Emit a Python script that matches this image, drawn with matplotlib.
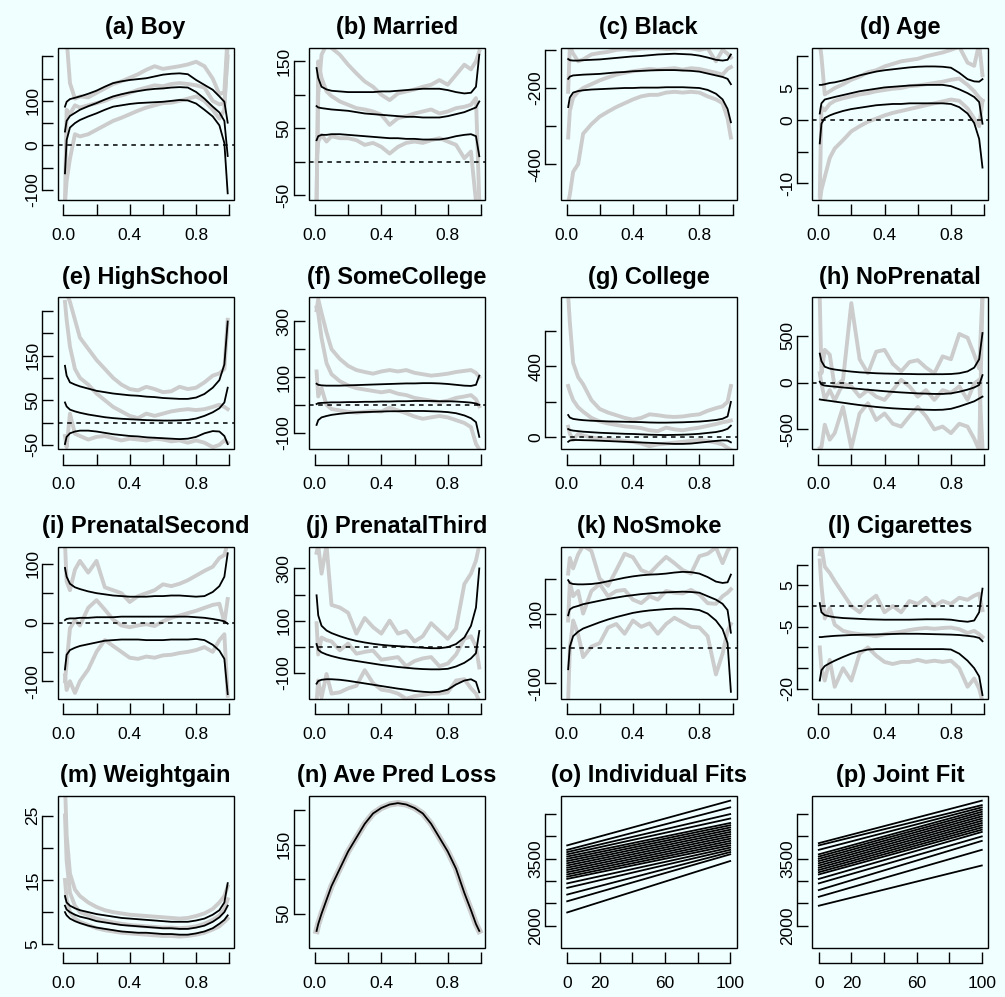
import numpy as np
import matplotlib.pyplot as plt
from matplotlib.patches import Rectangle

plt.rcParams['font.family'] = ['Liberation Sans', 'DejaVu Sans']

BG = '#F0FFFF'
GRAY = '#CCCCCC'

# quantile levels
tau = [0.01, 0.02, 0.04, 0.07, 0.10, 0.15, 0.20, 0.25, 0.30, 0.35, 0.40, 0.45,
       0.50, 0.55, 0.60, 0.65, 0.70, 0.75, 0.80, 0.85, 0.90, 0.94, 0.97, 0.99]

# (a) Boy
boy_hi = [87, 98, 104, 107, 110, 116, 123, 132, 140, 144, 147, 149, 151, 155, 159, 161, 162, 160, 147, 136, 125, 110, 98, 51]
boy_mid = [31, 55, 66, 73, 80, 88, 95, 103, 110, 115, 119, 122, 125, 127, 128, 130, 131, 130, 120, 105, 87, 74, 55, -24]
boy_lo = [-63, 12, 40, 50, 57, 65, 72, 80, 87, 90, 93, 95, 96, 97, 98, 100, 102, 101, 94, 80, 65, 45, 5, -108]
boy_g_hi = [260, 240, 140, 105, 110, 108, 118, 128, 138, 144, 152, 160, 170, 178, 172, 175, 178, 182, 188, 178, 150, 115, 120, 250]
boy_g_mid = [-130, 80, 70, 90, 85, 90, 95, 100, 108, 112, 118, 125, 130, 135, 133, 138, 140, 138, 135, 130, 100, 92, 95, 200]
boy_g_lo = [-130, -80, -30, 25, 20, 25, 35, 45, 55, 62, 70, 78, 85, 90, 95, 96, 100, 105, 110, 100, 80, 60, 80, 230]

# (b) Married
mar_hi = [140, 125, 112, 108, 106, 105, 104, 104, 104, 104, 105, 105, 106, 107, 108, 109, 109, 109, 107, 104, 102, 103, 112, 160]
mar_mid = [83, 81, 80, 79, 78, 77, 76, 74, 72, 71, 70, 69, 68, 67, 67, 66, 66, 66, 68, 71, 74, 78, 81, 90]
mar_lo = [32, 38, 40, 40, 41, 41, 40, 39, 38, 37, 36, 35, 35, 34, 34, 33, 33, 33, 35, 38, 40, 41, 38, 8]
mar_g_hi = [-60, 100, 160, 175, 170, 160, 145, 132, 120, 112, 100, 92, 102, 105, 108, 112, 115, 122, 115, 130, 145, 138, 150, 165]
mar_g_mid = [-60, 150, 125, 105, 98, 90, 85, 80, 78, 75, 70, 55, 65, 68, 72, 75, 78, 72, 75, 80, 82, 85, 95, -60]
mar_g_lo = [0, 30, 40, 30, 38, 35, 35, 32, 25, 28, 22, 12, 22, 28, 30, 28, 32, 35, 30, 25, 5, 15, -60, -60]

# (c) Black
blk_hi = [-124, -127, -128, -128, -127, -126, -125, -123, -121, -119, -117, -116, -114, -112, -111, -110, -111, -112, -115, -120, -126, -128, -126, -112]
blk_mid = [-176, -170, -167, -166, -165, -164, -163, -161, -159, -158, -156, -155, -154, -153, -153, -153, -154, -155, -157, -162, -167, -171, -176, -190]
blk_lo = [-250, -225, -212, -208, -206, -204, -203, -202, -201, -200, -200, -199, -199, -199, -198, -198, -198, -199, -200, -205, -215, -230, -255, -290]
blk_g_hi = [-210, -90, -110, -130, -125, -112, -108, -105, -100, -98, -100, -97, -96, -96, -98, -97, -95, -96, -100, -96, -130, -100, -110, -120]
blk_g_mid = [-330, -260, -225, -210, -200, -190, -180, -172, -165, -160, -156, -153, -150, -152, -150, -148, -152, -148, -150, -155, -160, -165, -150, -145]
blk_g_lo = [-500, -480, -420, -400, -320, -295, -275, -262, -250, -240, -230, -222, -218, -218, -212, -210, -212, -210, -212, -222, -230, -240, -280, -330]

# (d) Age
age_hi = [5.5, 5.5, 5.6, 5.8, 5.9, 6.2, 6.6, 7.0, 7.3, 7.6, 7.8, 7.95, 8.1, 8.25, 8.35, 8.4, 8.4, 8.35, 8.2, 7.4, 6.4, 6.05, 6.0, 6.4]
age_mid = [1.0, 2.6, 3.2, 3.4, 3.6, 3.9, 4.2, 4.5, 4.7, 4.9, 5.1, 5.2, 5.3, 5.4, 5.45, 5.5, 5.5, 5.5, 5.3, 4.8, 4.2, 3.6, 2.8, -0.6]
age_lo = [-3.7, -0.6, 0.3, 0.7, 1.0, 1.4, 1.7, 1.9, 2.1, 2.3, 2.4, 2.5, 2.5, 2.6, 2.6, 2.6, 2.6, 2.6, 2.5, 2.0, 1.0, -0.5, -3.0, -7.5]
age_g_hi = [12, 10, 4, 4.5, 5, 5.6, 6.3, 6.8, 7.5, 7.8, 8.4, 8.8, 9.2, 9.4, 9.6, 10.0, 10.3, 10.6, 11.0, 11.5, 9.0, 8.5, 12, 7]
age_g_mid = [-12, 2, 1.5, 2.5, 3.0, 3.4, 3.7, 4.0, 4.2, 4.5, 4.7, 4.9, 5.0, 5.3, 5.4, 5.6, 5.8, 6.0, 6.3, 6.5, 5.5, 4.5, 3.5, 3]
age_g_lo = [-13, -11, -9, -6, -4.5, -3.2, -1.8, -1.0, -0.3, 0.2, 0.7, 1.1, 1.4, 1.7, 2.0, 2.3, 2.6, 2.9, 3.2, 3.0, 1.8, 0.2, -1.0, 3.0]

# (e) HighSchool
hs_hi = [127, 105, 90, 85, 81, 76, 71, 68, 65, 63, 61, 60, 58, 57, 55, 54, 53, 53, 56, 64, 78, 95, 130, 226]
hs_mid = [45, 36, 29, 25, 22, 18, 15, 12, 10, 8.5, 7.5, 6.5, 5.5, 5, 4.5, 4.5, 5, 6, 9, 15, 23, 32, 45, 78]
hs_lo = [-48, -32, -24, -20, -18, -18, -20, -23, -26, -28, -30, -31, -33, -34, -35, -36, -37, -36, -32, -24, -19, -20, -30, -48]
hs_g_hi = [300, 290, 270, 230, 190, 165, 140, 120, 100, 85, 75, 72, 80, 75, 68, 70, 80, 75, 78, 90, 105, 110, 120, 230]
hs_g_mid = [270, 230, 170, 120, 100, 85, 65, 50, 35, 25, 15, 10, 20, 15, 20, 25, 28, 30, 28, 30, 35, 40, 35, 30]
hs_g_lo = [-30, -55, 20, -25, -30, -38, -32, -30, -35, -40, -36, -38, -40, -36, -38, -42, -40, -45, -40, -45, -55, -50, -40, -45]

# (f) SomeCollege
sc_hi = [76, 72, 70, 69, 69, 69, 70, 71, 72, 73, 74, 75, 76, 77, 77, 78, 78, 77, 75, 72, 69, 68, 72, 105]
sc_mid = [3, 6, 7, 8, 9, 9, 10, 10, 11, 11, 12, 12, 13, 13, 14, 14, 14, 13, 13, 12, 10, 8, 5, 0]
sc_lo = [-72, -55, -45, -40, -36, -32, -29, -27, -26, -25, -24, -23, -23, -22, -22, -22, -23, -24, -26, -30, -38, -48, -62, -115]
sc_g_hi = [340, 380, 330, 260, 200, 165, 140, 125, 118, 112, 120, 125, 120, 125, 115, 110, 105, 108, 112, 118, 122, 125, 115, 100]
sc_g_mid = [350, 330, 240, 150, 110, 85, 70, 60, 55, 50, 45, 50, 40, 35, 25, 20, 15, 10, 15, 25, 30, 35, 20, -5]
sc_g_lo = [120, 30, 60, 0, -15, -20, -25, -28, -25, -22, -24, -10, -20, -30, -42, -50, -45, -40, -45, -55, -65, -80, -140, -160]

# (g) College
col_hi = [126, 112, 104, 100, 97, 94, 92, 90, 89, 88, 87, 86, 84, 83, 83, 84, 85, 87, 89, 93, 98, 105, 118, 200]
col_mid = [47, 42, 38, 35, 32, 29, 26, 24, 22, 20, 19, 17, 15, 14, 13, 14, 15, 17, 20, 25, 30, 38, 48, 66]
col_lo = [-25, -18, -15, -15, -16, -17, -19, -21, -23, -25, -27, -29, -31, -33, -35, -37, -37, -35, -30, -25, -20, -17, -18, -28]
col_g_hi = [800, 650, 420, 340, 300, 210, 160, 140, 125, 110, 100, 110, 130, 125, 118, 115, 118, 125, 130, 150, 165, 175, 200, 290]
col_g_mid = [290, 260, 210, 170, 145, 110, 90, 78, 70, 62, 58, 52, 40, 35, 55, 45, 40, 48, 55, 65, 75, 85, 90, 95]
col_g_lo = [60, 20, -15, 20, 10, 0, -8, -12, -15, -20, -25, -35, -50, -40, -35, -30, -25, -20, -15, -20, -30, -40, -60, -70]

# (h) NoPrenatal
np_hi = [310, 230, 170, 150, 140, 128, 118, 110, 105, 100, 97, 95, 93, 92, 90, 90, 90, 90, 92, 100, 120, 160, 250, 530]
np_mid = [10, -20, -32, -38, -43, -52, -60, -68, -76, -84, -92, -99, -105, -110, -115, -118, -121, -121, -115, -98, -75, -52, -25, 80]
np_lo = [-180, -183, -188, -195, -203, -215, -228, -240, -250, -260, -268, -275, -280, -284, -287, -290, -292, -290, -280, -255, -225, -200, -170, -150]
np_g_hi = [900, 100, 350, 300, -50, 30, 850, 250, 100, 330, 350, 200, 120, 220, 240, 160, 100, 280, 250, 520, 480, 300, 150, 950]
np_g_mid = [100, -10, -180, -80, -190, -10, -40, -150, -80, -150, -185, -80, 30, -40, -150, -80, -185, -80, -110, -40, -185, -10, 30, -700]
np_g_lo = [-700, -690, -450, -610, -540, -260, -700, -330, -220, -400, -330, -440, -470, -360, -260, -360, -500, -470, -540, -440, -470, -600, -720, 900]

# (i) PrenatalSecond
ps_hi = [93, 78, 66, 60, 57, 53, 50, 48, 46, 45, 44, 44, 44, 45, 45, 46, 46, 45, 44, 45, 52, 62, 78, 118]
ps_mid = [4, 6, 7, 7, 8, 8, 9, 9, 9, 10, 10, 10, 10, 10, 10, 10, 10, 10, 9, 8, 6, 4, 2, -2]
ps_lo = [-80, -55, -47, -43, -40, -37, -34, -31, -30, -29, -29, -29, -30, -30, -30, -29, -29, -29, -28, -30, -38, -48, -62, -122]
ps_g_hi = [135, 70, 55, 90, 105, 85, 105, 60, 55, 50, 35, 45, 50, 55, 65, 62, 66, 72, 80, 88, 95, 110, 115, 135]
ps_g_mid = [-100, -70, -10, 4, -5, 25, 38, 22, 5, -5, -8, -5, -3, -6, 2, 8, 12, 16, 20, 25, 30, 32, 0, 40]
ps_g_lo = [-90, -115, -100, -120, -100, -80, -50, -30, -40, -50, -60, -62, -58, -60, -56, -55, -52, -50, -47, -42, -50, -30, -20, -125]

# (j) PrenatalThird
pt_hi = [197, 120, 80, 62, 52, 40, 30, 22, 16, 11, 7, 4, 2, 0, -2, -4, -6, -6, -2, 10, 35, 80, 150, 300]
pt_mid = [10, -12, -22, -30, -36, -44, -50, -55, -60, -65, -70, -74, -78, -81, -84, -86, -87, -87, -85, -76, -62, -45, -25, 60]
pt_lo = [-142, -132, -127, -125, -125, -127, -131, -136, -141, -146, -151, -156, -161, -165, -170, -173, -175, -173, -165, -145, -130, -125, -135, -175]
pt_g_hi = [360, 390, 280, 390, 160, 150, 130, 50, 110, 75, 50, 100, 50, 60, 20, 40, 90, 60, 30, 70, 240, 280, 330, 390]
pt_g_mid = [90, -30, 35, 25, 20, -14, 12, -27, -20, -15, -50, -45, -40, -75, -55, -45, -40, -75, -65, -30, 30, 40, 0, -80]
pt_g_lo = [-210, -130, -195, -105, -180, -175, -160, -150, -90, -140, -165, -170, -180, -200, -190, -185, -180, -180, -175, -130, -125, -160, -180, -210]

# (k) NoSmoke
ns_hi = [196, 188, 185, 184, 184, 185, 188, 193, 198, 203, 207, 210, 212, 213, 215, 218, 220, 219, 215, 205, 192, 188, 190, 212]
ns_mid = [95, 112, 118, 122, 127, 132, 137, 142, 146, 150, 153, 156, 158, 160, 161, 162, 163, 162, 160, 150, 140, 128, 110, 45]
ns_lo = [-60, 5, 35, 48, 57, 66, 75, 83, 90, 96, 102, 106, 109, 111, 113, 114, 114, 113, 110, 100, 80, 55, 15, -125]
ns_g_hi = [215, 260, 230, 270, 295, 280, 200, 180, 225, 272, 262, 225, 215, 240, 263, 245, 225, 215, 265, 272, 290, 245, 280, 295]
ns_g_mid = [80, 190, 150, 165, 100, 165, 185, 150, 165, 168, 140, 130, 150, 140, 165, 160, 158, 168, 155, 130, 128, 150, 160, 170]
ns_g_lo = [-150, 0, 80, 40, -25, 5, 15, 60, 70, 42, 80, 62, 72, 42, 70, 88, 75, 62, 60, 35, -75, -15, 50, 70]

# (l) Cigarettes
cig_hi = [0.7, -1.5, -2.2, -2.5, -2.7, -2.9, -3.0, -3.1, -3.2, -3.25, -3.3, -3.3, -3.3, -3.3, -3.25, -3.2, -3.2, -3.2, -3.3, -3.6, -3.8, -3.5, -1.5, 4.2]
cig_mid = [-7.5, -7.5, -7.4, -7.3, -7.2, -7.1, -7.0, -6.95, -6.9, -6.85, -6.8, -6.75, -6.7, -6.7, -6.7, -6.75, -6.8, -6.85, -6.9, -7.0, -7.2, -7.4, -7.7, -8.5]
cig_lo = [-18, -15.5, -14.5, -13.8, -13.2, -12.3, -11.5, -10.9, -10.5, -10.4, -10.4, -10.4, -10.4, -10.4, -10.4, -10.4, -10.4, -10.4, -10.5, -11.5, -13.2, -15, -17, -21.5]
cig_g_hi = [12.5, 14.5, 9.5, 8, 6, 3, 0, -1.5, 1.0, 2.5, -1.5, 0, -1.5, 1.2, 0.5, 2.0, 0, 1.2, 0.5, 2.0, 1.5, 2.5, 3, -1]
cig_g_mid = [11, 5, -3, -0.5, -4.5, -6, -6.5, -6.8, -7.0, -7.3, -6.8, -6.5, -6.2, -5.8, -5.5, -5.3, -5.5, -5.3, -5.2, -5.6, -6.5, -6.0, -6.8, -7.5]
cig_g_lo = [-10, -15, -18, -13, -19.5, -15, -18, -11.5, -10, -12, -13.5, -14, -13.5, -13.5, -13, -13.5, -13.2, -13.5, -13.2, -15, -19.5, -17.5, -20, -23]

# (m) Weightgain
wg_hi = [12.5, 11.5, 11.0, 10.6, 10.3, 10.0, 9.7, 9.5, 9.3, 9.1, 9.0, 8.9, 8.8, 8.7, 8.6, 8.5, 8.5, 8.5, 8.7, 9.0, 9.6, 10.3, 11.5, 14.5]
wg_mid = [11.0, 10.4, 10.0, 9.6, 9.3, 9.0, 8.6, 8.4, 8.2, 8.0, 7.9, 7.8, 7.7, 7.6, 7.5, 7.5, 7.4, 7.4, 7.6, 7.9, 8.5, 9.2, 10.0, 11.0]
wg_lo = [10.0, 9.5, 9.0, 8.6, 8.3, 7.9, 7.6, 7.4, 7.2, 7.0, 6.9, 6.8, 6.8, 6.7, 6.6, 6.6, 6.5, 6.5, 6.7, 7.0, 7.5, 8.2, 8.8, 9.5]
wg_g_hi = [30, 22, 16, 13.5, 12.5, 11.5, 10.8, 10.3, 10.0, 9.8, 9.6, 9.5, 9.4, 9.3, 9.2, 9.1, 9.0, 9.1, 9.4, 9.8, 10.5, 11.5, 12.5, 14]
wg_g_mid = [25, 18, 13, 11, 10, 9.5, 9.0, 8.7, 8.4, 8.2, 8.0, 7.9, 7.8, 7.7, 7.6, 7.6, 7.5, 7.6, 7.8, 8.2, 8.8, 9.5, 10.5, 12]
wg_g_lo = [15, 12, 10, 9, 8.5, 8.0, 7.5, 7.2, 7.0, 6.8, 6.7, 6.6, 6.5, 6.4, 6.3, 6.3, 6.2, 6.3, 6.5, 6.8, 7.3, 7.8, 8.5, 9]

# (n) Ave Pred Loss
loss_gray = [25, 35, 50, 70, 90, 115, 140, 160, 180, 195, 203, 208, 210, 208, 203, 195, 180, 160, 140, 115, 80, 55, 35, 25]
loss_black = [25, 35, 50, 70, 90, 115, 140, 160, 180, 195, 203, 208, 210, 208, 203, 195, 180, 160, 140, 115, 80, 55, 35, 25]

# (o) Individual Fits: value at x=0 and at x=100 for each quantile line
indiv_start = [2300, 2550, 2700, 2850, 2950, 3050, 3100, 3150, 3200, 3250, 3300, 3350, 3400, 3450, 3500, 3550, 3600, 3650, 3700, 3800]
indiv_end = [3450, 3600, 3650, 3700, 3750, 3800, 3850, 3900, 3950, 4000, 4050, 4100, 4150, 4200, 4250, 4300, 4400, 4500, 4650, 4800]

# (p) Joint Fit
joint_start = [2450, 2650, 2800, 2950, 3050, 3150, 3200, 3250, 3300, 3350, 3400, 3450, 3500, 3550, 3600, 3700, 3800, 3850]
joint_end = [3350, 3700, 3900, 4000, 4100, 4150, 4200, 4250, 4300, 4350, 4400, 4450, 4500, 4550, 4600, 4650, 4700, 4800]
fit_x = [0, 100]

PANELS = [
    ('(a) Boy', [boy_g_hi, boy_g_mid, boy_g_lo], [boy_hi, boy_mid, boy_lo],
     (-123, 219), [-100, -50, 0, 50, 100, 150, 200], ['-100', '', '0', '', '100', '', '']),
    ('(b) Married', [mar_g_hi, mar_g_mid, mar_g_lo], [mar_hi, mar_mid, mar_lo],
     (-57.5, 170), [-50, 0, 50, 100, 150], ['-50', '', '50', '', '150']),
    ('(c) Black', [blk_g_hi, blk_g_mid, blk_g_lo], [blk_hi, blk_mid, blk_lo],
     (-494, -95), [-400, -300, -200, -100], ['-400', '', '-200', '']),
    ('(d) Age', [age_g_hi, age_g_mid, age_g_lo], [age_hi, age_mid, age_lo],
     (-12.6, 11.3), [-10, -5, 0, 5, 10], ['-10', '', '0', '5', '']),
    ('(e) HighSchool', [hs_g_hi, hs_g_mid, hs_g_lo], [hs_hi, hs_mid, hs_lo],
     (-60, 280), [-50, 0, 50, 100, 150, 200, 250], ['-50', '', '50', '', '150', '', '']),
    ('(f) SomeCollege', [sc_g_hi, sc_g_mid, sc_g_lo], [sc_hi, sc_mid, sc_lo],
     (-160, 386), [-100, 0, 100, 200, 300], ['-100', '', '100', '', '300']),
    ('(g) College', [col_g_hi, col_g_mid, col_g_lo], [col_hi, col_mid, col_lo],
     (-68, 790), [0, 200, 400, 600], ['0', '', '400', '']),
    ('(h) NoPrenatal', [np_g_hi, np_g_mid, np_g_lo], [np_hi, np_mid, np_lo],
     (-714, 911), [-500, 0, 500], ['-500', '0', '500']),
    ('(i) PrenatalSecond', [ps_g_hi, ps_g_mid, ps_g_lo], [ps_hi, ps_mid, ps_lo],
     (-130, 129), [-100, -50, 0, 50, 100], ['-100', '', '0', '', '100']),
    ('(j) PrenatalThird', [pt_g_hi, pt_g_mid, pt_g_lo], [pt_hi, pt_mid, pt_lo],
     (-200, 383), [-100, 0, 100, 200, 300], ['-100', '', '100', '', '300']),
    ('(k) NoSmoke', [ns_g_hi, ns_g_mid, ns_g_lo], [ns_hi, ns_mid, ns_lo],
     (-145, 292), [-100, 0, 100, 200], ['-100', '', '100', '']),
    ('(l) Cigarettes', [cig_g_hi, cig_g_mid, cig_g_lo], [cig_hi, cig_mid, cig_lo],
     (-22.4, 14.3), [-20, -15, -10, -5, 0, 5, 10], ['-20', '', '', '-5', '', '5', '']),
    ('(m) Weightgain', [wg_g_hi, wg_g_mid, wg_g_lo], [wg_hi, wg_mid, wg_lo],
     (4.4, 28), [5, 10, 15, 20, 25], ['5', '', '15', '', '25']),
    ('(n) Ave Pred Loss', [loss_gray], [loss_black],
     (0, 220), [50, 100, 150, 200], ['50', '', '150', '']),
]

fig = plt.figure(figsize=(10.05, 9.97), dpi=100, facecolor=BG)


def make_axes(k):
    r, c = divmod(k, 4)
    left = 57.5 + c * 251.6
    top = 48 + r * 249.4
    ax = fig.add_axes([left / 1005, 1 - (top + 152) / 997, 176 / 1005, 152 / 997])
    ax.set_facecolor(BG)
    return ax


def style(ax, title, xt, xl, yt, yl):
    ax.set_title(title, fontsize=17, fontweight='bold', pad=10)
    for s in ['top', 'right']:
        ax.spines[s].set_visible(False)
    for s in ['left', 'bottom']:
        ax.spines[s].set_position(('outward', 11))
        ax.spines[s].set_linewidth(1.0)
    ax.spines['bottom'].set_bounds(xt[0], xt[-1])
    ax.spines['left'].set_bounds(yt[0], yt[-1])
    ax.add_patch(Rectangle((0, 0), 1, 1, transform=ax.transAxes, fill=False,
                           lw=1.0, ec='black', clip_on=False, zorder=6))
    ax.set_xticks(xt)
    ax.set_xticklabels(xl)
    ax.set_yticks(yt)
    ax.set_yticklabels(yl, rotation=90, va='center')
    ax.tick_params(direction='in', length=8, width=1.0, labelsize=12.5)
    ax.tick_params(axis='x', pad=9)
    ax.tick_params(axis='y', pad=1.5)


for k, (title, grays, blacks, ylim, yt, yl) in enumerate(PANELS):
    ax = make_axes(k)
    lw_g = 4.5 if k == 13 else 2.8
    for g in grays:
        ax.plot(tau, g, color=GRAY, lw=lw_g, zorder=2)
    for b in blacks:
        ax.plot(tau, b, color='black', lw=1.3, zorder=3)
    if ylim[0] < 0 < ylim[1]:
        ax.axhline(0, color='black', lw=1.1, ls=(0, (3, 3)), zorder=4)
    ax.set_xlim(-0.035, 1.025)
    ax.set_ylim(*ylim)
    style(ax, title, [0, 0.2, 0.4, 0.6, 0.8, 1.0], ['0.0', '', '0.4', '', '0.8', ''], yt, yl)

# (o) Individual Fits
ax = make_axes(14)
for s0, s1 in zip(indiv_start, indiv_end):
    ax.plot(fit_x, [s0, s1], color='black', lw=1.3)
ax.set_xlim(-4, 104)
ax.set_ylim(1500, 4900)
style(ax, '(o) Individual Fits', [0, 20, 40, 60, 80, 100], ['0', '20', '', '60', '', '100'],
      [2000, 2500, 3000, 3500, 4000, 4500], ['2000', '', '', '3500', '', ''])

# (p) Joint Fit
ax = make_axes(15)
for s0, s1 in zip(joint_start, joint_end):
    ax.plot(fit_x, [s0, s1], color='black', lw=1.3)
ax.set_xlim(-4, 104)
ax.set_ylim(1500, 4900)
style(ax, '(p) Joint Fit', [0, 20, 40, 60, 80, 100], ['0', '20', '', '60', '', '100'],
      [2000, 2500, 3000, 3500, 4000, 4500], ['2000', '', '', '3500', '', ''])

fig.savefig('out.png', dpi=100, facecolor=BG)
